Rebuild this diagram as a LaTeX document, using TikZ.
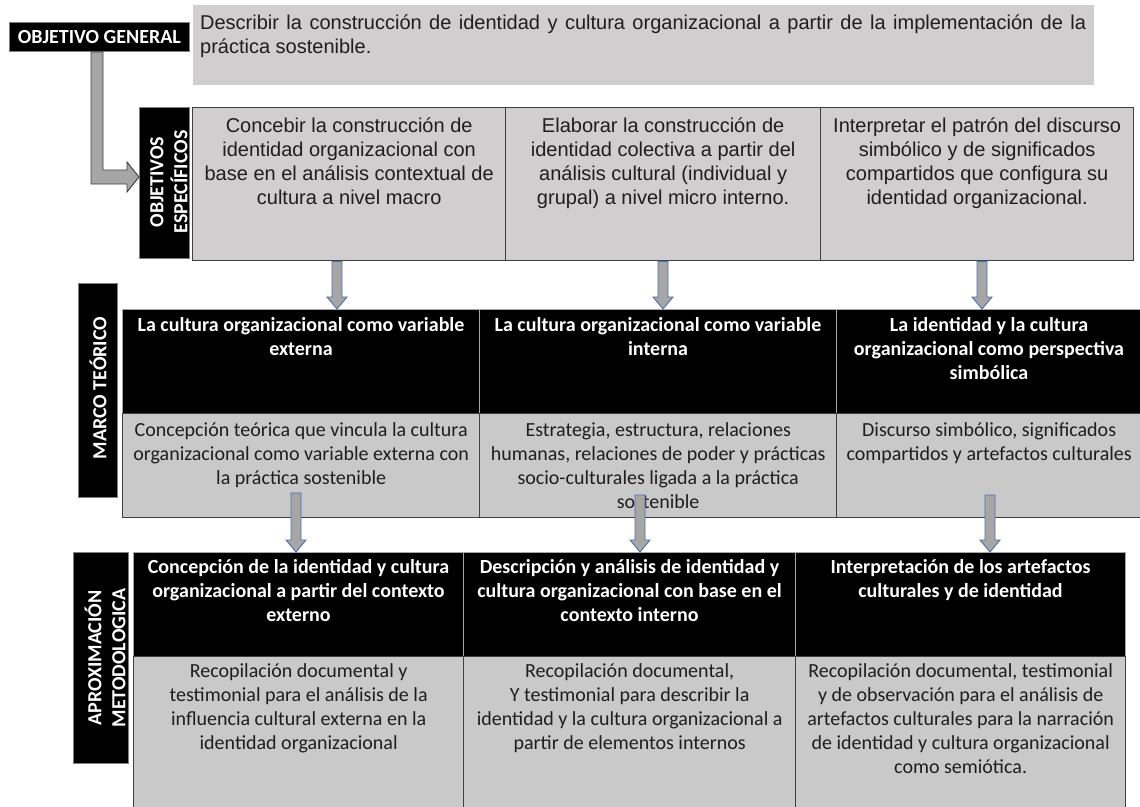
\documentclass[tikz,border=0pt]{standalone}
\usepackage{fontspec}
\setmainfont{Carlito}
\newfontfamily\arialf{Liberation Sans}
\usetikzlibrary{calc}
\definecolor{paletop}{HTML}{D0CECE}
\definecolor{palelow}{HTML}{C9C9C9}
\definecolor{rule}{HTML}{404040}
\definecolor{ink}{HTML}{1E1E1E}
\definecolor{arrowfill}{HTML}{A6A6A6}
\definecolor{arrowedge}{HTML}{4F6FA8}
\newcommand{\cellbody}[4]{\parbox[c][#2][t]{#1}{\centering\vspace*{#3}\strut#4\par}}
\tikzset{
  tagbox/.style={fill=black, draw=gray, line width=0.8pt, inner sep=0pt, anchor=north west},
  tagtext/.style={text=white, font=\fontsize{20}{24}\selectfont\bfseries, align=center, rotate=90},
  topcell/.style={fill=paletop, draw=rule, line width=1.3pt, inner sep=0pt, anchor=north west,
    text=ink, font=\fontsize{20}{24}\selectfont\arialf},
  headcell/.style={fill=black, draw=gray!70, line width=1pt, inner sep=0pt, anchor=north west,
    text=white, font=\fontsize{20}{24}\selectfont\bfseries},
  bodycell/.style={fill=palelow, draw=rule, line width=1.3pt, inner sep=0pt, anchor=north west,
    text=ink, font=\fontsize{20}{24}\selectfont},
  blockdown/.style={draw=arrowedge, fill=arrowfill, line width=0.9pt,
    to path={let \p1=(\tikztostart), \p2=(\tikztotarget) in
      (\x1-5pt,\y1) -- (\x1+5pt,\y1) -- (\x1+5pt,\y2+12pt) -- (\x1+10pt,\y2+12pt)
      -- (\x1,\y2) -- (\x1-10pt,\y2+12pt) -- (\x1-5pt,\y2+12pt) -- cycle}},
  blockelbow/.style={draw=rule, fill=arrowfill, line width=0.9pt,
    to path={let \p1=(\tikztostart), \p2=(\tikztotarget) in
      (\x1-6pt,\y1) -- (\x1+6pt,\y1) -- (\x1+6pt,\y2+7pt) -- (\x2-12pt,\y2+7pt)
      -- (\x2-12pt,\y2+15pt) -- (\x2,\y2) -- (\x2-12pt,\y2-15pt) -- (\x2-12pt,\y2-7pt)
      -- (\x1-6pt,\y2-7pt) -- cycle}},
}

\begin{document}
\begin{tikzpicture}[x=1pt,y=-1pt]
  \useasboundingbox (0,0) rectangle (1140,806);
  \clip (0,0) rectangle (1140,806);

  % objetivo general
  \node[tagbox, minimum width=180pt, minimum height=29pt, text=white,
    font=\fontsize{20}{24}\selectfont\bfseries] (og) at (9,22) {OBJETIVO GENERAL};
  \node[topcell, draw=none] (gen) at (192,4) {\cellbody{901pt}{80pt}{8pt}{%
    \makebox[886pt][s]{Describir la construcción de identidad y cultura organizacional a partir de la implementación de la}\\
    \makebox[886pt][l]{práctica sostenible.}}};

  % objetivos especificos
  \node[tagbox, minimum width=50pt, minimum height=151pt] (oe) at (139,107) {};
  \node[tagtext] (oelab) at (169,182) {OBJETIVOS\\ESPECÍFICOS};
  \node[topcell] (s1) at (192,107) {\cellbody{313pt}{153pt}{8pt}{Concebir la construcción de\\identidad organizacional con\\base en el análisis contextual de\\cultura a nivel macro}};
  \node[topcell] (s2) at (505,107) {\cellbody{315pt}{153pt}{8pt}{Elaborar la construcción de\\identidad colectiva a partir del\\análisis cultural (individual y\\grupal) a nivel micro interno.}};
  \node[topcell] (s3) at (820,107) {\cellbody{313pt}{153pt}{8pt}{Interpretar el patrón del discurso\\simbólico y de significados\\compartidos que configura su\\identidad organizacional.}};

  \coordinate (k1) at (97,177);   % elbow height
  \draw[blockelbow] (og.south -| k1) to (oe.west |- k1);

  % marco teorico
  \node[tagbox, minimum width=39pt, minimum height=214pt] (mt) at (78,283) {};
  \node[tagtext] (mtlab) at (98,388) {MARCO TEÓRICO};
  \node[headcell] (m1) at (122,309) {\cellbody{357pt}{104pt}{5pt}{La cultura organizacional como variable\\externa}};
  \node[headcell] (m2) at (479,309) {\cellbody{357pt}{104pt}{5pt}{La cultura organizacional como variable\\interna}};
  \node[headcell] (m3) at (836,309) {\cellbody{305pt}{104pt}{5pt}{La identidad y la cultura\\organizacional como perspectiva\\simbólica}};
  \node[bodycell] (g1) at (122,413) {\cellbody{357pt}{104pt}{6pt}{Concepción teórica que vincula la cultura\\organizacional como variable externa con\\la práctica sostenible}};
  \node[bodycell] (g2) at (479,413) {\cellbody{357pt}{104pt}{6pt}{Estrategia, estructura, relaciones\\humanas, relaciones de poder y prácticas\\socio-culturales ligada a la práctica\\sostenible}};
  \node[bodycell] (g3) at (836,413) {\cellbody{305pt}{104pt}{6pt}{Discurso simbólico, significados\\compartidos y artefactos culturales}};

  \coordinate (c1) at (337,0);
  \coordinate (c2) at (663,0);
  \coordinate (c3) at (982,0);
  \draw[blockdown] (s1.south -| c1) to (m1.north -| c1);
  \draw[blockdown] (s2.south -| c2) to (m2.north -| c2);
  \draw[blockdown] (s3.south -| c3) to (m3.north -| c3);

  % aproximacion metodologica
  \node[tagbox, minimum width=55pt, minimum height=211pt] (ap) at (73,552) {};
  \node[tagtext] (aplab) at (105,658) {APROXIMACIÓN\\METODOLOGICA};
  \node[headcell] (a1) at (133,552) {\cellbody{330pt}{104pt}{4pt}{Concepción de la identidad y cultura\\organizacional a partir del contexto\\externo}};
  \node[headcell] (a2) at (463,552) {\cellbody{332pt}{104pt}{4pt}{Descripción y análisis de identidad y\\cultura organizacional con base en el\\contexto interno}};
  \node[headcell] (a3) at (795,552) {\cellbody{330pt}{104pt}{4pt}{Interpretación de los artefactos\\culturales y de identidad}};
  \node[bodycell] (b1) at (133,656) {\cellbody{330pt}{160pt}{4pt}{Recopilación documental y\\testimonial para el análisis de la\\influencia cultural externa en la\\identidad organizacional}};
  \node[bodycell] (b2) at (463,656) {\cellbody{332pt}{160pt}{4pt}{Recopilación documental,\\Y testimonial para describir la\\identidad y la cultura organizacional a\\partir de elementos internos}};
  \node[bodycell] (b3) at (795,656) {\cellbody{330pt}{160pt}{4pt}{Recopilación documental, testimonial\\y de observación para el análisis de\\artefactos culturales para la narración\\de identidad y cultura organizacional\\como semiótica.}};

  \coordinate (e1) at (296,493);
  \coordinate (e2) at (640,495);
  \coordinate (e3) at (990,495);
  \draw[blockdown] (e1) to (a1.north -| e1);
  \draw[blockdown] (e2) to (a2.north -| e2);
  \draw[blockdown] (e3) to (a3.north -| e3);
\end{tikzpicture}
\end{document}
